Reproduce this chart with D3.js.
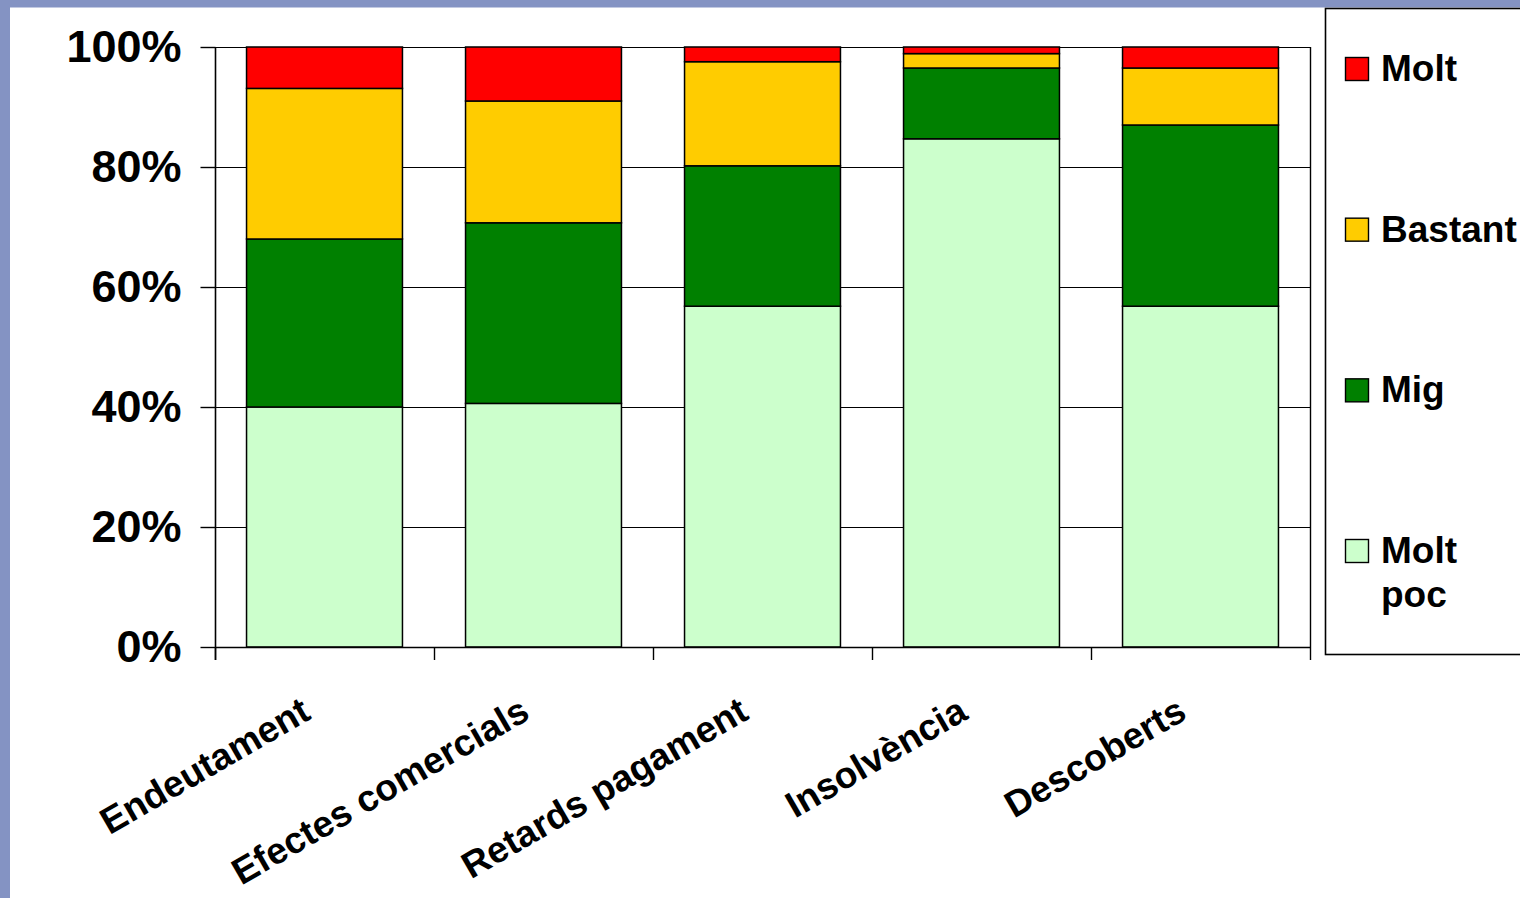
<!DOCTYPE html>
<html>
<head>
<meta charset="utf-8">
<script src="https://cdn.jsdelivr.net/npm/d3@7/dist/d3.min.js"></script>
<style>
  html, body { margin: 0; padding: 0; background: #ffffff; }
  svg { display: block; }
  text { font-family: "Liberation Sans", Arial, sans-serif; font-weight: bold; fill: #000; }
</style>
</head>
<body>
<svg id="chart" width="1520" height="898"></svg>
<script>
// ---- data ----
const categories = ["Endeutament", "Efectes comercials", "Retards pagament", "Insolvència", "Descoberts"];
const seriesNames = ["Molt poc", "Mig", "Bastant", "Molt"];   // stacking order bottom -> top
const moltPoc = [40.0, 40.6, 56.8, 84.7, 56.8];
const mig     = [28.0, 30.1, 23.4, 11.8, 30.2];
const bastant = [25.1, 20.3, 17.35, 2.4, 9.5];
const molt    = [6.9, 9.0, 2.45, 1.1, 3.5];
const yTicks  = [0, 20, 40, 60, 80, 100];
const seriesColors = ["#CCFFCC", "#008000", "#FFCC00", "#FF0000"];
const legendOrder = ["Molt", "Bastant", "Mig", "Molt poc"];

const seriesValues = [moltPoc, mig, bastant, molt];
const table = categories.map((c, i) => {
  const row = { cat: c };
  seriesNames.forEach((s, k) => row[s] = seriesValues[k][i]);
  return row;
});

// ---- layout ----
const svg = d3.select("#chart");
const W = 1520, H = 898;
const plot = { left: 215, right: 1310, top: 47, bottom: 647 };

// frame background
svg.append("rect").attr("x", 0).attr("y", 0).attr("width", W).attr("height", H).attr("fill", "#8493C3");
svg.append("rect").attr("x", 10).attr("y", 7.5).attr("width", W - 10).attr("height", H - 7.5).attr("fill", "#ffffff");

const x = d3.scaleBand().domain(categories).range([plot.left, plot.right])
  .paddingInner(0.288).paddingOuter(0.144);
const y = d3.scaleLinear().domain([0, 100]).range([plot.bottom, plot.top]);

const stack = d3.stack().keys(seriesNames)
  .offset(d3.stackOffsetExpand);
const stacked = stack(table);

// gridlines
svg.append("g").selectAll("line").data(yTicks).join("line")
  .attr("x1", plot.left).attr("x2", plot.right)
  .attr("y1", d => Math.round(y(d)) + 0.5).attr("y2", d => Math.round(y(d)) + 0.5)
  .attr("stroke", "#000").attr("stroke-width", 1.2);

// right border
svg.append("line")
  .attr("x1", plot.right + 0.5).attr("x2", plot.right + 0.5)
  .attr("y1", plot.top).attr("y2", plot.bottom)
  .attr("stroke", "#000").attr("stroke-width", 1.4);

// bars
svg.append("g").selectAll("g").data(stacked).join("g")
  .attr("fill", (d, i) => seriesColors[i])
  .selectAll("rect").data(d => d).join("rect")
  .attr("x", d => x(d.data.cat))
  .attr("width", x.bandwidth())
  .attr("y", d => y(d[1] * 100))
  .attr("height", d => y(d[0] * 100) - y(d[1] * 100))
  .attr("stroke", "#000").attr("stroke-width", 1.5);

// y axis
const yAxis = d3.axisLeft(y).tickValues(yTicks).tickFormat(d => d + "%").tickSize(15).tickPadding(19);
const gy = svg.append("g").attr("transform", `translate(${plot.left + 0.5},0)`).call(yAxis);
gy.select(".domain").attr("stroke", "#000").attr("stroke-width", 1.6).attr("d", `M0,${plot.top}V${plot.bottom + 13}`);
gy.selectAll(".tick line").attr("stroke", "#000").attr("stroke-width", 1.4);
gy.selectAll(".tick text").style("font-size", "45px").attr("font-family", null).attr("fill", "#000");

// x axis (ticks at category boundaries)
const bounds = categories.map(c => x(c) - x.step() * x.paddingInner() / 2);
bounds.push(plot.right);
svg.append("line").attr("x1", plot.left).attr("x2", plot.right + 1)
  .attr("y1", plot.bottom + 0.5).attr("y2", plot.bottom + 0.5)
  .attr("stroke", "#000").attr("stroke-width", 1.6);
svg.append("g").selectAll("line").data(bounds).join("line")
  .attr("x1", d => Math.round(d) + 0.5).attr("x2", d => Math.round(d) + 0.5)
  .attr("y1", plot.bottom).attr("y2", plot.bottom + 13)
  .attr("stroke", "#000").attr("stroke-width", 1.4);

// category labels
svg.append("g").selectAll("text").data(categories).join("text")
  .attr("transform", c => `translate(${x(c) + x.bandwidth() / 2 - 12},${718}) rotate(-30)`)
  .attr("text-anchor", "end")
  .style("font-size", "37px")
  .text(c => c);

// legend
const lg = svg.append("g");
lg.append("rect").attr("x", 1325.5).attr("y", 8.5).attr("width", 260).attr("height", 646)
  .attr("fill", "#fff").attr("stroke", "#000").attr("stroke-width", 1.6);
const ly = d3.scalePoint().domain(legendOrder).range([57, 539]);
const items = lg.selectAll("g.item").data(legendOrder).join("g").attr("class", "item")
  .attr("transform", d => `translate(1345,${ly(d)})`);
items.append("rect").attr("x", 0.5).attr("y", 0.5).attr("width", 23).attr("height", 23)
  .attr("fill", d => seriesColors[seriesNames.indexOf(d)])
  .attr("stroke", "#000").attr("stroke-width", 1.4);
items.append("text").attr("x", 36).attr("y", 24).style("font-size", "37px")
  .each(function(d) {
    const words = d.split(" ");
    const t = d3.select(this);
    words.forEach((w, i) => t.append("tspan").attr("x", 36).attr("dy", i === 0 ? 0 : 44).text(w));
  });
</script>
</body>
</html>
